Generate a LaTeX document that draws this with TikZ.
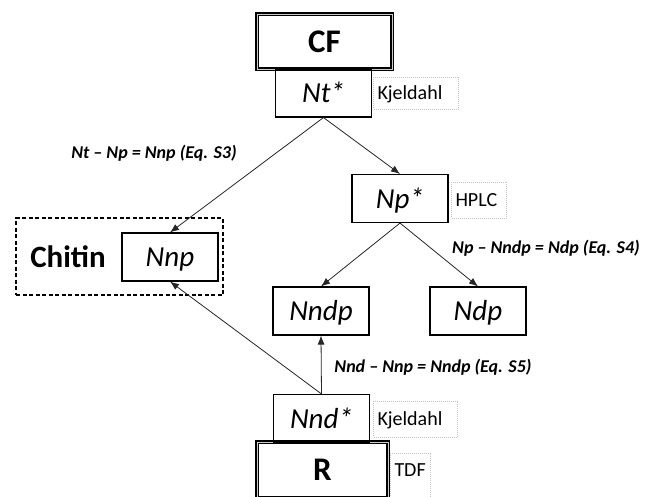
\documentclass[tikz,border=0pt]{standalone}
\usepackage{fontspec}
\setmainfont{Carlito}
\usepackage{tikz}
\usetikzlibrary{arrows,arrows.meta,shapes}
\tikzstyle{sample}=[rectangle,draw=black,line width=1.7pt,double=gray!40,double distance=1pt,inner sep=0pt,text height=21pt,text depth=0pt,font=\fontsize{33}{38}\selectfont\bfseries]
\tikzstyle{nbox}=[rectangle,draw=black,line width=1.1pt,minimum width=96pt,minimum height=48pt,inner sep=0pt,text height=19pt,text depth=0pt,font=\fontsize{29}{34}\selectfont\itshape]
\tikzstyle{method}=[rectangle,draw=gray!45,densely dotted,line width=1pt,inner xsep=4pt,inner ysep=0pt,anchor=west,align=left,text height=13pt,text depth=0pt,font=\fontsize{20}{24}\selectfont]
\tikzstyle{group}=[rectangle,draw=black,dash pattern=on 4pt off 2.5pt,line width=1.3pt,minimum width=207pt,minimum height=77pt]
\tikzstyle{eqn}=[font=\fontsize{18}{22}\selectfont\bfseries\itshape]
\tikzstyle{edge}=[draw,line width=0.8pt,black!85,-{Latex[length=9pt,width=7pt]}]

\begin{document}
\begin{tikzpicture}[x=1pt,y=-1pt]

    \useasboundingbox (0,0) rectangle (648,496);

    % samples
    \node[sample,minimum width=135pt,minimum height=55pt] (cf) at (324.5,41.5) {CF};
    \node[sample,minimum width=131pt,minimum height=56pt] (r) at (322.5,470) {R};

    % nitrogen fractions
    \node[nbox] (nt) at (323.5,93) {Nt*};
    \node[nbox] (np) at (400,198.5) {Np*};
    \node[group] (chitin) at (119.5,256.5) {};
    \node[text height=20pt,text depth=0pt,font=\fontsize{31}{36}\selectfont\bfseries] (chitinlbl) at (68,257) {Chitin};
    \node[nbox] (nnp) at (170,257) {Nnp};
    \node[nbox] (nndp) at (321,311) {Nndp};
    \node[nbox] (ndp) at (478,311) {Ndp};
    \node[nbox] (nnd) at (321.5,418.5) {Nnd*};

    % methods
    \node[method,text width=77pt,minimum height=32pt] (kj1) at (373,93) {Kjeldahl};
    \node[method,text width=47pt,minimum height=36pt] (hplc) at (451,200) {HPLC};
    \node[method,text width=76pt,minimum height=36pt] (kj2) at (373,419) {Kjeldahl};
    \node[method,text width=32pt,minimum height=46pt,text depth=12pt] (tdf) at (390,476) {TDF};

    % equations
    \node[eqn] (eq3) at (154,153) {Nt – Np = Nnp (Eq. S3)};
    \node[eqn] (eq4) at (546,248) {Np – Nndp = Ndp (Eq. S4)};
    \node[eqn] (eq5) at (433,367) {Nnd – Nnp = Nndp (Eq. S5)};

    \path[edge] (nt.south) -- (nnp.north);
    \path[edge] (nt.south) -- (np.north);
    \path[edge] (np.south) -- (nndp.north);
    \path[edge] (np.south) -- (ndp.north);
    \path[edge] (nnd.north) -- (nndp.south);
    \path[edge] (nnd.north) -- (nnp.south);

\end{tikzpicture}
\end{document}
